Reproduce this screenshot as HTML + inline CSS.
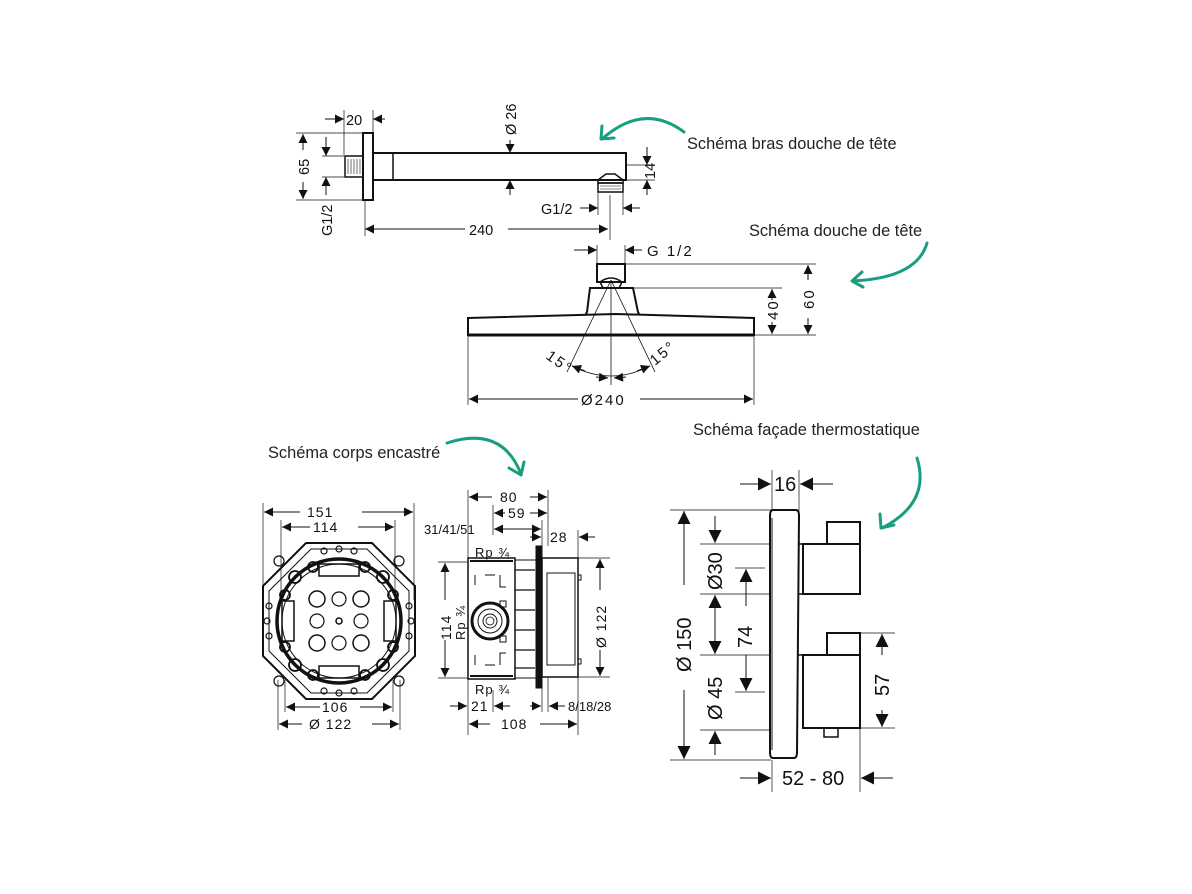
<!DOCTYPE html>
<html><head><meta charset="utf-8"><style>
html,body{margin:0;padding:0;background:#fff;}
svg{display:block;}
text{font-family:"Liberation Sans",sans-serif;fill:#111;}
.l{font-size:16.4px;fill:#222;}
</style></head><body>
<svg width="1192" height="894" viewBox="0 0 1192 894" xmlns="http://www.w3.org/2000/svg">
<defs>
<marker id="a" viewBox="0 0 10 10" refX="10" refY="5" markerWidth="10" markerHeight="9" orient="auto-start-reverse" markerUnits="userSpaceOnUse"><path d="M0,0L10,5L0,10z" fill="#111"/></marker>
<marker id="b" viewBox="0 0 10 10" refX="10" refY="5" markerWidth="13" markerHeight="13" orient="auto-start-reverse" markerUnits="userSpaceOnUse"><path d="M0,0L10,5L0,10z" fill="#111"/></marker>
</defs>
<g fill="none" stroke="#111" stroke-width="1">
<!-- ===== shower arm ===== -->
<rect x="363" y="133" width="10" height="67" stroke-width="2"/>
<rect x="345" y="156" width="18" height="21" stroke-width="1.5"/>
<path d="M348,159v15M351,159v15M354,159v15M357,159v15M360,159v15" stroke-width="0.6"/>
<rect x="373" y="153" width="253" height="27" stroke-width="2"/>
<line x1="393" y1="153" x2="393" y2="180" stroke-width="1.5"/>
<path d="M598,180l8,-6h9l8,6v3h-25z" stroke-width="1.5"/>
<rect x="598" y="183" width="25" height="9" stroke-width="1.5"/>
<path d="M600,186h21M600,189h21" stroke-width="0.6"/>
<!-- dims arm -->
<line x1="344" y1="110" x2="344" y2="155" stroke-width="0.7"/>
<line x1="373" y1="110" x2="373" y2="132" stroke-width="0.7"/>
<line x1="325" y1="119" x2="344" y2="119" marker-end="url(#a)"/>
<line x1="385" y1="119" x2="373" y2="119" marker-end="url(#a)"/>
<line x1="296" y1="133" x2="363" y2="133" stroke-width="0.7"/>
<line x1="296" y1="200" x2="363" y2="200" stroke-width="0.7"/>
<line x1="303" y1="150" x2="303" y2="134" marker-end="url(#a)"/>
<line x1="303" y1="182" x2="303" y2="199" marker-end="url(#a)"/>
<line x1="322" y1="156" x2="344" y2="156" stroke-width="0.7"/>
<line x1="322" y1="177" x2="344" y2="177" stroke-width="0.7"/>
<line x1="326" y1="137" x2="326" y2="156" marker-end="url(#a)"/>
<line x1="326" y1="195" x2="326" y2="177" marker-end="url(#a)"/>
<line x1="510" y1="140" x2="510" y2="153" marker-end="url(#a)"/>
<line x1="510" y1="195" x2="510" y2="180" marker-end="url(#a)"/>
<line x1="626" y1="165" x2="655" y2="165" stroke-width="0.7"/>
<line x1="623" y1="180" x2="655" y2="180" stroke-width="0.7"/>
<line x1="647" y1="147" x2="647" y2="165" marker-end="url(#a)"/>
<line x1="647" y1="195" x2="647" y2="180" marker-end="url(#a)"/>
<line x1="598" y1="192" x2="598" y2="215" stroke-width="0.7"/>
<line x1="623" y1="192" x2="623" y2="215" stroke-width="0.7"/>
<line x1="610" y1="195" x2="610" y2="240" stroke-width="0.7"/>
<line x1="580" y1="208" x2="598" y2="208" marker-end="url(#a)"/>
<line x1="640" y1="208" x2="623" y2="208" marker-end="url(#a)"/>
<line x1="365" y1="200" x2="365" y2="236" stroke-width="0.7"/>
<line x1="465" y1="229" x2="365" y2="229" marker-end="url(#a)"/>
<line x1="508" y1="229" x2="608" y2="229" marker-end="url(#a)"/>
<!-- ===== shower head ===== -->
<rect x="597" y="264" width="28" height="18" stroke-width="2"/>
<path d="M600,282q11,-8 22,0l-3,6h-16z" stroke-width="1.5"/>
<path d="M590,288h43l5,24l2,4h-55l2,-4z" stroke-width="2" fill="#fff"/>
<path d="M468,318q140,-4 148,-4q8,0 138,4v17h-286z" stroke-width="2" fill="#fff"/>
<line x1="468" y1="335" x2="754" y2="335" stroke-width="3"/>
<line x1="611" y1="282" x2="611" y2="385" stroke-width="0.8"/>
<line x1="611" y1="280" x2="567" y2="372" stroke-width="0.8"/>
<line x1="611" y1="280" x2="655" y2="372" stroke-width="0.8"/>
<path d="M572,366q39,20 78,0" stroke-width="0.8"/>
<line x1="585" y1="371" x2="572" y2="366" marker-end="url(#a)"/>
<line x1="596" y1="377" x2="608" y2="378" marker-end="url(#a)"/>
<line x1="626" y1="377" x2="614" y2="378" marker-end="url(#a)"/>
<line x1="637" y1="371" x2="650" y2="366" marker-end="url(#a)"/>
<line x1="597" y1="245" x2="597" y2="264" stroke-width="0.7"/>
<line x1="625" y1="245" x2="625" y2="264" stroke-width="0.7"/>
<line x1="574" y1="250" x2="597" y2="250" marker-end="url(#a)"/>
<line x1="642" y1="250" x2="625" y2="250" marker-end="url(#a)"/>
<line x1="625" y1="264" x2="816" y2="264" stroke-width="0.7"/>
<line x1="633" y1="288" x2="782" y2="288" stroke-width="0.7"/>
<line x1="754" y1="335" x2="816" y2="335" stroke-width="0.7"/>
<line x1="808" y1="280" x2="808" y2="265" marker-end="url(#a)"/>
<line x1="808" y1="318" x2="808" y2="334" marker-end="url(#a)"/>
<line x1="772" y1="300" x2="772" y2="289" marker-end="url(#a)"/>
<line x1="772" y1="322" x2="772" y2="334" marker-end="url(#a)"/>
<line x1="468" y1="335" x2="468" y2="405" stroke-width="0.7"/>
<line x1="754" y1="335" x2="754" y2="405" stroke-width="0.7"/>
<line x1="578" y1="399" x2="469" y2="399" marker-end="url(#a)"/>
<line x1="640" y1="399" x2="753" y2="399" marker-end="url(#a)"/>
<!-- ===== embedded body front ===== -->
<g transform="translate(339,621)">
<path d="M-33,-78H33L76,-35V35L33,78H-33L-76,35V-35z" stroke-width="2"/>
<path d="M-28,-72H28L70,-30V30L28,72H-28L-70,30V-30z" stroke-width="1"/>
<circle r="62" stroke-width="3.5"/>
<circle r="57" stroke-width="1"/>
<circle cx="-22" cy="-22" r="8" stroke-width="1.5"/><circle cx="22" cy="-22" r="8" stroke-width="1.5"/>
<circle cx="-22" cy="22" r="8" stroke-width="1.5"/><circle cx="22" cy="22" r="8" stroke-width="1.5"/>
<circle cx="0" cy="-22" r="7" stroke-width="1.2"/><circle cx="0" cy="22" r="7" stroke-width="1.2"/>
<circle cx="-22" cy="0" r="7" stroke-width="1.2"/><circle cx="22" cy="0" r="7" stroke-width="1.2"/>
<circle r="3" stroke-width="1.5"/>
<rect x="-20" y="-57" width="40" height="12" stroke-width="1.5"/>
<rect x="-20" y="45" width="40" height="12" stroke-width="1.5"/>
<rect x="-57" y="-20" width="12" height="40" stroke-width="1.5"/>
<rect x="45" y="-20" width="12" height="40" stroke-width="1.5"/>
<g stroke-width="1.8">
<circle cx="-44" cy="-44" r="6"/><circle cx="44" cy="-44" r="6"/><circle cx="-44" cy="44" r="6"/><circle cx="44" cy="44" r="6"/>
<circle cx="-54" cy="-26" r="5"/><circle cx="54" cy="-26" r="5"/><circle cx="-54" cy="26" r="5"/><circle cx="54" cy="26" r="5"/>
<circle cx="-26" cy="-54" r="5"/><circle cx="26" cy="-54" r="5"/><circle cx="-26" cy="54" r="5"/><circle cx="26" cy="54" r="5"/>
</g>
<g stroke-width="1.2">
<circle cx="-60" cy="-60" r="5"/><circle cx="60" cy="-60" r="5"/><circle cx="-60" cy="60" r="5"/><circle cx="60" cy="60" r="5"/>
<circle cx="0" cy="-72" r="3"/><circle cx="0" cy="72" r="3"/><circle cx="-72" cy="0" r="3"/><circle cx="72" cy="0" r="3"/>
<circle cx="-70" cy="-15" r="3"/><circle cx="70" cy="-15" r="3"/><circle cx="-70" cy="15" r="3"/><circle cx="70" cy="15" r="3"/>
<circle cx="-15" cy="-70" r="3"/><circle cx="15" cy="-70" r="3"/><circle cx="-15" cy="70" r="3"/><circle cx="15" cy="70" r="3"/>
</g>
</g>
<line x1="263" y1="503" x2="263" y2="600" stroke-width="0.7"/>
<line x1="414" y1="503" x2="414" y2="600" stroke-width="0.7"/>
<line x1="281" y1="520" x2="281" y2="600" stroke-width="0.7"/>
<line x1="395" y1="520" x2="395" y2="600" stroke-width="0.7"/>
<line x1="300" y1="512" x2="264" y2="512" marker-end="url(#a)"/>
<line x1="362" y1="512" x2="413" y2="512" marker-end="url(#a)"/>
<line x1="310" y1="527" x2="282" y2="527" marker-end="url(#a)"/>
<line x1="358" y1="527" x2="394" y2="527" marker-end="url(#a)"/>
<line x1="285" y1="680" x2="285" y2="712" stroke-width="0.7"/>
<line x1="393" y1="680" x2="393" y2="712" stroke-width="0.7"/>
<line x1="278" y1="680" x2="278" y2="730" stroke-width="0.7"/>
<line x1="400" y1="680" x2="400" y2="730" stroke-width="0.7"/>
<line x1="320" y1="707" x2="286" y2="707" marker-end="url(#a)"/>
<line x1="360" y1="707" x2="392" y2="707" marker-end="url(#a)"/>
<line x1="302" y1="724" x2="279" y2="724" marker-end="url(#a)"/>
<line x1="372" y1="724" x2="399" y2="724" marker-end="url(#a)"/>
<!-- ===== embedded body side ===== -->
<rect x="468" y="558" width="47" height="121" stroke-width="1.5"/>
<line x1="470" y1="561" x2="513" y2="561" stroke-width="2"/>
<line x1="470" y1="676" x2="513" y2="676" stroke-width="2"/>
<rect x="515" y="560" width="22" height="118" stroke-width="1"/>
<path d="M515,570h20M515,590h20M515,610h20M515,630h20M515,650h20M515,668h20" stroke-width="1.2"/>
<rect x="536" y="546" width="6" height="142" fill="#111"/>
<rect x="542" y="558" width="36" height="119" stroke-width="1.5"/>
<rect x="547" y="573" width="28" height="92" stroke-width="1"/>
<rect x="578" y="575" width="3" height="5"/><rect x="578" y="659" width="3" height="5"/>
<circle cx="490" cy="621" r="18" stroke-width="3"/>
<circle cx="490" cy="621" r="12" stroke-width="1"/>
<circle cx="490" cy="621" r="7" stroke-width="1"/>
<circle cx="490" cy="621" r="4" stroke-width="0.8"/>
<path d="M475,575v10M485,575h10M500,575v12h6M475,665v-10M485,665h10M500,665v-12h6" stroke-width="1"/>
<rect x="500" y="601" width="6" height="6"/><rect x="500" y="636" width="6" height="6"/>
<line x1="468" y1="490" x2="468" y2="558" stroke-width="0.7"/>
<line x1="548" y1="490" x2="548" y2="546" stroke-width="0.7"/>
<line x1="493" y1="505" x2="493" y2="535" stroke-width="0.7"/>
<line x1="542" y1="520" x2="542" y2="546" stroke-width="0.7"/>
<line x1="578" y1="530" x2="578" y2="558" stroke-width="0.7"/>
<line x1="492" y1="497" x2="469" y2="497" marker-end="url(#a)"/>
<line x1="530" y1="497" x2="547" y2="497" marker-end="url(#a)"/>
<line x1="505" y1="513" x2="494" y2="513" marker-end="url(#a)"/>
<line x1="530" y1="513" x2="547" y2="513" marker-end="url(#a)"/>
<line x1="494" y1="529" x2="541" y2="529" marker-end="url(#a)" marker-start="url(#a)"/>
<line x1="530" y1="537" x2="541" y2="537" marker-end="url(#a)"/>
<line x1="595" y1="537" x2="579" y2="537" marker-end="url(#a)"/>
<line x1="438" y1="562" x2="468" y2="562" stroke-width="0.7"/>
<line x1="438" y1="678" x2="468" y2="678" stroke-width="0.7"/>
<line x1="445" y1="600" x2="445" y2="563" marker-end="url(#a)"/>
<line x1="445" y1="640" x2="445" y2="677" marker-end="url(#a)"/>
<line x1="578" y1="558" x2="610" y2="558" stroke-width="0.7"/>
<line x1="578" y1="677" x2="610" y2="677" stroke-width="0.7"/>
<line x1="600" y1="590" x2="600" y2="559" marker-end="url(#a)"/>
<line x1="600" y1="650" x2="600" y2="676" marker-end="url(#a)"/>
<line x1="468" y1="679" x2="468" y2="735" stroke-width="0.7"/>
<line x1="493" y1="690" x2="493" y2="712" stroke-width="0.7"/>
<line x1="542" y1="688" x2="542" y2="712" stroke-width="0.7"/>
<line x1="548" y1="677" x2="548" y2="712" stroke-width="0.7"/>
<line x1="578" y1="677" x2="578" y2="735" stroke-width="0.7"/>
<line x1="450" y1="706" x2="467" y2="706" marker-end="url(#a)"/>
<line x1="510" y1="706" x2="494" y2="706" marker-end="url(#a)"/>
<line x1="530" y1="706" x2="541" y2="706" marker-end="url(#a)"/>
<line x1="565" y1="706" x2="549" y2="706" marker-end="url(#a)"/>
<line x1="490" y1="724" x2="469" y2="724" marker-end="url(#a)"/>
<line x1="540" y1="724" x2="577" y2="724" marker-end="url(#a)"/>
<!-- ===== thermostat ===== -->
<path d="M775,510h21q3,0 3,6l-2,236q0,6 -3,6h-21q-3,0 -3,-6v-236q0,-6 3,-6z" stroke-width="2"/>
<line x1="772" y1="518" x2="772" y2="750" stroke-width="1"/>
<rect x="803" y="544" width="57" height="50" stroke-width="2"/>
<rect x="827" y="522" width="33" height="22" stroke-width="2"/>
<line x1="798" y1="544" x2="803" y2="544" stroke-width="1.5"/><line x1="798" y1="594" x2="803" y2="594" stroke-width="1.5"/>
<rect x="803" y="655" width="57" height="73" stroke-width="2"/>
<rect x="827" y="633" width="33" height="22" stroke-width="2"/>
<rect x="824" y="728" width="14" height="9" stroke-width="1.5"/>
<line x1="798" y1="655" x2="803" y2="655" stroke-width="1.5"/>
<line x1="772" y1="470" x2="772" y2="510" stroke-width="0.7"/>
<line x1="799" y1="470" x2="799" y2="544" stroke-width="0.7"/>
<line x1="740" y1="484" x2="771" y2="484" marker-end="url(#b)"/>
<line x1="833" y1="484" x2="800" y2="484" marker-end="url(#b)"/>
<line x1="670" y1="510" x2="771" y2="510" stroke-width="0.7"/>
<line x1="670" y1="760" x2="771" y2="760" stroke-width="0.7"/>
<line x1="684" y1="585" x2="684" y2="511" marker-end="url(#b)"/>
<line x1="684" y1="690" x2="684" y2="759" marker-end="url(#b)"/>
<line x1="700" y1="544" x2="770" y2="544" stroke-width="0.7"/>
<line x1="700" y1="594" x2="770" y2="594" stroke-width="0.7"/>
<line x1="700" y1="655" x2="770" y2="655" stroke-width="0.7"/>
<line x1="700" y1="730" x2="770" y2="730" stroke-width="0.7"/>
<line x1="735" y1="568" x2="765" y2="568" stroke-width="0.7"/>
<line x1="735" y1="692" x2="765" y2="692" stroke-width="0.7"/>
<line x1="715" y1="516" x2="715" y2="543" marker-end="url(#b)"/>
<line x1="715" y1="625" x2="715" y2="595" marker-end="url(#b)"/>
<line x1="715" y1="625" x2="715" y2="654" marker-end="url(#b)"/>
<line x1="715" y1="755" x2="715" y2="731" marker-end="url(#b)"/>
<line x1="746" y1="606" x2="746" y2="569" marker-end="url(#b)"/>
<line x1="746" y1="655" x2="746" y2="691" marker-end="url(#b)"/>
<line x1="860" y1="633" x2="895" y2="633" stroke-width="0.7"/>
<line x1="860" y1="728" x2="895" y2="728" stroke-width="0.7"/>
<line x1="882" y1="655" x2="882" y2="634" marker-end="url(#b)"/>
<line x1="882" y1="710" x2="882" y2="727" marker-end="url(#b)"/>
<line x1="772" y1="760" x2="772" y2="792" stroke-width="0.7"/>
<line x1="860" y1="728" x2="860" y2="792" stroke-width="0.7"/>
<line x1="740" y1="778" x2="771" y2="778" marker-end="url(#b)"/>
<line x1="893" y1="778" x2="861" y2="778" marker-end="url(#b)"/>
</g>
<!-- dim texts -->
<g font-size="14.5">
<text x="346" y="125">20</text>
<text x="516" y="135" transform="rotate(-90 516 135)">Ø 26</text>
<text x="309" y="175" transform="rotate(-90 309 175)">65</text>
<text x="332" y="236" transform="rotate(-90 332 236)">G1/2</text>
<text x="469" y="235">240</text>
<text x="541" y="214">G1/2</text>
<text x="655" y="179" transform="rotate(-90 655 179)">14</text>
</g>
<g font-size="15" letter-spacing="2">
<text x="647" y="256">G 1/2</text>
<text x="814" y="309" transform="rotate(-90 814 309)">60</text>
<text x="778" y="320" transform="rotate(-90 778 320)">40</text>
<text x="581" y="405">Ø240</text>
<text x="545" y="358" transform="rotate(35 545 358)">15°</text>
<text x="655" y="366" transform="rotate(-40 655 366)">15°</text>
</g>
<g font-size="14" letter-spacing="1">
<text x="307" y="517">151</text>
<text x="313" y="532">114</text>
<text x="322" y="712">106</text>
<text x="309" y="729">Ø 122</text>
<text x="500" y="502">80</text>
<text x="508" y="518">59</text>
<text x="424" y="534" font-size="13" letter-spacing="0">31/41/51</text>
<text x="550" y="542">28</text>
<text x="475" y="557" font-size="13">Rp ¾</text>
<text x="475" y="694" font-size="13">Rp ¾</text>
<text x="451" y="640" transform="rotate(-90 451 640)">114</text>
<text x="465" y="640" transform="rotate(-90 465 640)" font-size="13">Rp ¾</text>
<text x="606" y="648" transform="rotate(-90 606 648)">Ø 122</text>
<text x="471" y="711">21</text>
<text x="568" y="711" font-size="13" letter-spacing="0">8/18/28</text>
<text x="501" y="729">108</text>
</g>
<g font-size="20">
<text x="774" y="491">16</text>
<text x="691" y="672" transform="rotate(-90 691 672)">Ø 150</text>
<text x="722" y="590" transform="rotate(-90 722 590)">Ø30</text>
<text x="752" y="648" transform="rotate(-90 752 648)">74</text>
<text x="722" y="720" transform="rotate(-90 722 720)">Ø 45</text>
<text x="889" y="696" transform="rotate(-90 889 696)">57</text>
<text x="782" y="785">52 - 80</text>
</g>
<!-- labels -->
<text class="l" x="687" y="149">Schéma bras douche de tête</text>
<text class="l" x="749" y="236">Schéma douche de tête</text>
<text class="l" x="268" y="458">Schéma corps encastré</text>
<text class="l" x="693" y="435">Schéma façade thermostatique</text>
<g fill="none" stroke="#1a9e80" stroke-width="3" stroke-linecap="round" stroke-linejoin="round">
<path d="M684,132q-40,-30 -82,7"/><path d="M602,126l-1,13l13,-1"/>
<path d="M927,243q-10,35 -74,38"/><path d="M862,272l-10,9l11,6"/>
<path d="M447,443q55,-18 74,31"/><path d="M509,468l12,7l3,-13"/>
<path d="M917,458q14,45 -35,70"/><path d="M880,514l1,14l13,-3"/>
</g>
</svg>
</body></html>
